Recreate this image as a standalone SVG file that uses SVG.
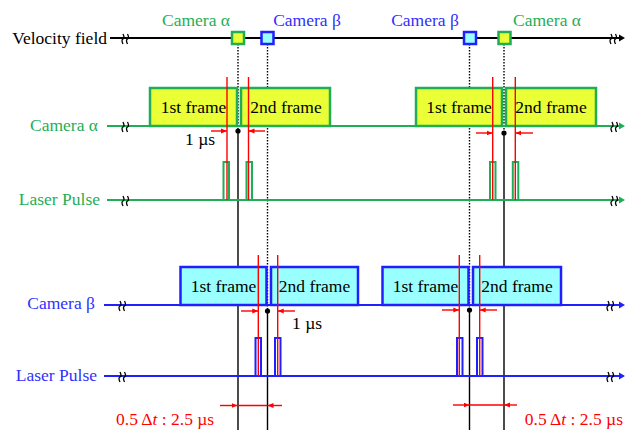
<svg xmlns="http://www.w3.org/2000/svg" width="625" height="430" viewBox="0 0 625 430">
<style>
text{font-family:"Liberation Serif","Times New Roman",serif;font-size:17.5px}
.g{fill:#1fae55}.b{fill:#3030ff}.k{fill:#000}.r{fill:#ff0000}
.gl{stroke:#1fae55;stroke-width:2.2;fill:none}
.bl{stroke:#2020ff;stroke-width:2.2;fill:none}
.kl{stroke:#000;stroke-width:2;fill:none}
.fa{fill:#eaff36;stroke:#1fae55;stroke-width:2.5}
.fb{fill:#99ffff;stroke:#2020ff;stroke-width:2.5}
.pa{fill:#fff;stroke:#1fae55;stroke-width:2}
.pb{fill:#fff;stroke:#2020ff;stroke-width:2}
.dot{stroke:#000;stroke-width:1.4;stroke-dasharray:1.5 1.5;fill:none}
.sol{stroke:#000;stroke-width:1.4;fill:none}
.red{stroke:#ff0000;stroke-width:1.4;fill:none}
.brk{stroke:#000;stroke-width:1.3;fill:none}
</style>
<defs>
<marker id="ra" viewBox="0 0 6 6" refX="6" refY="3" markerWidth="6" markerHeight="6" markerUnits="userSpaceOnUse" orient="auto"><path d="M0,0.6 L6,3 L0,5.4z" fill="#ff0000"/></marker>
<g id="brk"><path class="brk" d="M-2,5 Q-4,1 -2,0 Q0,-1 -2,-5 M2.5,5 Q0.5,1 2.5,0 Q4.5,-1 2.5,-5"/></g>
</defs>

<!-- guide lines (under frames) -->
<g id="guides">
<path class="dot" d="M238,44 V131 M267.5,44 V311 M469.5,44 V310 M504,44 V133"/>
<path class="sol" d="M238,131 V430 M267.5,311 V430 M469.5,310 V430 M504,133 V430"/>
</g>

<!-- Velocity field row -->
<g id="velocity">
<text class="k" x="107" y="44" text-anchor="end">Velocity field</text>
<line class="kl" x1="110" y1="38" x2="620" y2="38"/>
<path d="M619,34.5 L625,38 L619,41.5z" fill="#000"/>
<use href="#brk" x="125" y="39"/>
<use href="#brk" x="613" y="39"/>
<rect x="232" y="32" width="12" height="12" class="fa"/>
<rect x="261.5" y="32" width="12" height="12" class="fb"/>
<rect x="464" y="32" width="12" height="12" class="fb"/>
<rect x="498.5" y="32" width="12" height="12" class="fa"/>
<text class="g" x="196" y="26" text-anchor="middle">Camera α</text>
<text class="b" x="307" y="26" text-anchor="middle">Camera β</text>
<text class="b" x="425" y="26" text-anchor="middle">Camera β</text>
<text class="g" x="547" y="26" text-anchor="middle">Camera α</text>
</g>

<!-- Camera alpha row -->
<g id="camera-alpha">
<text class="g" x="98" y="131" text-anchor="end">Camera α</text>
<line class="gl" x1="107" y1="126" x2="620" y2="126"/>
<path d="M619,122.5 L625,126 L619,129.5z" fill="#1fae55"/>
<use href="#brk" x="125" y="127"/>
<use href="#brk" x="614" y="127"/>
<rect class="fa" x="150" y="88" width="87" height="38"/>
<rect class="fa" x="241" y="88" width="89" height="38"/>
<rect class="fa" x="416" y="88" width="86" height="38"/>
<rect class="fa" x="506" y="88" width="90" height="38"/>
<text class="k" x="193.5" y="113" text-anchor="middle">1st frame</text>
<text class="k" x="286" y="113" text-anchor="middle">2nd frame</text>
<text class="k" x="459" y="113" text-anchor="middle">1st frame</text>
<text class="k" x="551" y="113" text-anchor="middle">2nd frame</text>
</g>

<!-- Laser pulse alpha row -->
<g id="laser-alpha">
<text class="g" x="100" y="205" text-anchor="end">Laser Pulse</text>
<line class="gl" x1="107" y1="200" x2="620" y2="200"/>
<path d="M619,196.5 L625,200 L619,203.5z" fill="#1fae55"/>
<use href="#brk" x="125" y="201"/>
<use href="#brk" x="614" y="201"/>
<rect class="pa" x="223.5" y="162" width="5.5" height="38"/>
<rect class="pa" x="246.5" y="162" width="5.5" height="38"/>
<rect class="pa" x="490" y="162" width="5.5" height="38"/>
<rect class="pa" x="512.8" y="162" width="5.5" height="38"/>
</g>

<!-- Camera beta row -->
<g id="camera-beta">
<text class="b" x="95" y="309" text-anchor="end">Camera β</text>
<line class="bl" x1="104" y1="305" x2="620" y2="305"/>
<path d="M619,301.5 L625,305 L619,308.5z" fill="#2020ff"/>
<use href="#brk" x="122" y="306"/>
<use href="#brk" x="610" y="306"/>
<rect class="fb" x="180.5" y="267" width="86" height="38"/>
<rect class="fb" x="271" y="267" width="87" height="38"/>
<rect class="fb" x="382.5" y="267" width="86" height="38"/>
<rect class="fb" x="473" y="267" width="88" height="38"/>
<text class="k" x="223.5" y="292" text-anchor="middle">1st frame</text>
<text class="k" x="314.5" y="292" text-anchor="middle">2nd frame</text>
<text class="k" x="425.5" y="292" text-anchor="middle">1st frame</text>
<text class="k" x="517" y="292" text-anchor="middle">2nd frame</text>
</g>

<!-- Laser pulse beta row -->
<g id="laser-beta">
<text class="b" x="97" y="381" text-anchor="end">Laser Pulse</text>
<line class="bl" x1="104" y1="376" x2="620" y2="376"/>
<path d="M619,372.5 L625,376 L619,379.5z" fill="#2020ff"/>
<use href="#brk" x="122" y="377"/>
<use href="#brk" x="610" y="377"/>
<rect class="pb" x="255.5" y="338" width="5.5" height="38"/>
<rect class="pb" x="275" y="338" width="5.5" height="38"/>
<rect class="pb" x="457" y="338" width="5.5" height="38"/>
<rect class="pb" x="477" y="338" width="5.5" height="38"/>
</g>

<!-- timing markers -->
<g id="connectors">
<path class="red" d="M227,77 V200 M248.5,77 V200 M492.7,77 V200 M515.3,77 V200"/>
<path class="red" d="M258.3,255 V376 M277.7,255 V376 M459.3,255 V376 M479.7,255 V376"/>
<path class="red" marker-end="url(#ra)" d="M211,131 H227"/>
<path class="red" marker-end="url(#ra)" d="M265,131 H248.5"/>
<path class="red" marker-end="url(#ra)" d="M476,133 H492.7"/>
<path class="red" marker-end="url(#ra)" d="M533,133 H515.3"/>
<path class="red" marker-end="url(#ra)" d="M241,311 H258.3"/>
<path class="red" marker-end="url(#ra)" d="M295,311 H277.7"/>
<path class="red" marker-end="url(#ra)" d="M442,310 H459.3"/>
<path class="red" marker-end="url(#ra)" d="M497,310 H479.7"/>
<path class="red" d="M237.5,405.5 H267.5 M469.5,405 H504"/>
<path class="red" marker-end="url(#ra)" d="M220,405.5 H237.5"/>
<path class="red" marker-end="url(#ra)" d="M282,405.5 H267.5"/>
<path class="red" marker-end="url(#ra)" d="M453,405 H469.5"/>
<path class="red" marker-end="url(#ra)" d="M517,405 H504"/>
<circle cx="238" cy="131" r="2.6" fill="#000"/>
<circle cx="504" cy="133" r="2.6" fill="#000"/>
<circle cx="267.5" cy="311" r="2.6" fill="#000"/>
<circle cx="469.5" cy="310" r="2.6" fill="#000"/>
</g>

<g id="labels">
<text class="k" x="185" y="145">1 µs</text>
<text class="k" x="292" y="329">1 µs</text>
<text class="r" x="116" y="425">0.5 Δ<tspan font-style="italic">t</tspan> : 2.5 µs</text>
<text class="r" x="623" y="425" text-anchor="end">0.5 Δ<tspan font-style="italic">t</tspan> : 2.5 µs</text>
</g>
</svg>
